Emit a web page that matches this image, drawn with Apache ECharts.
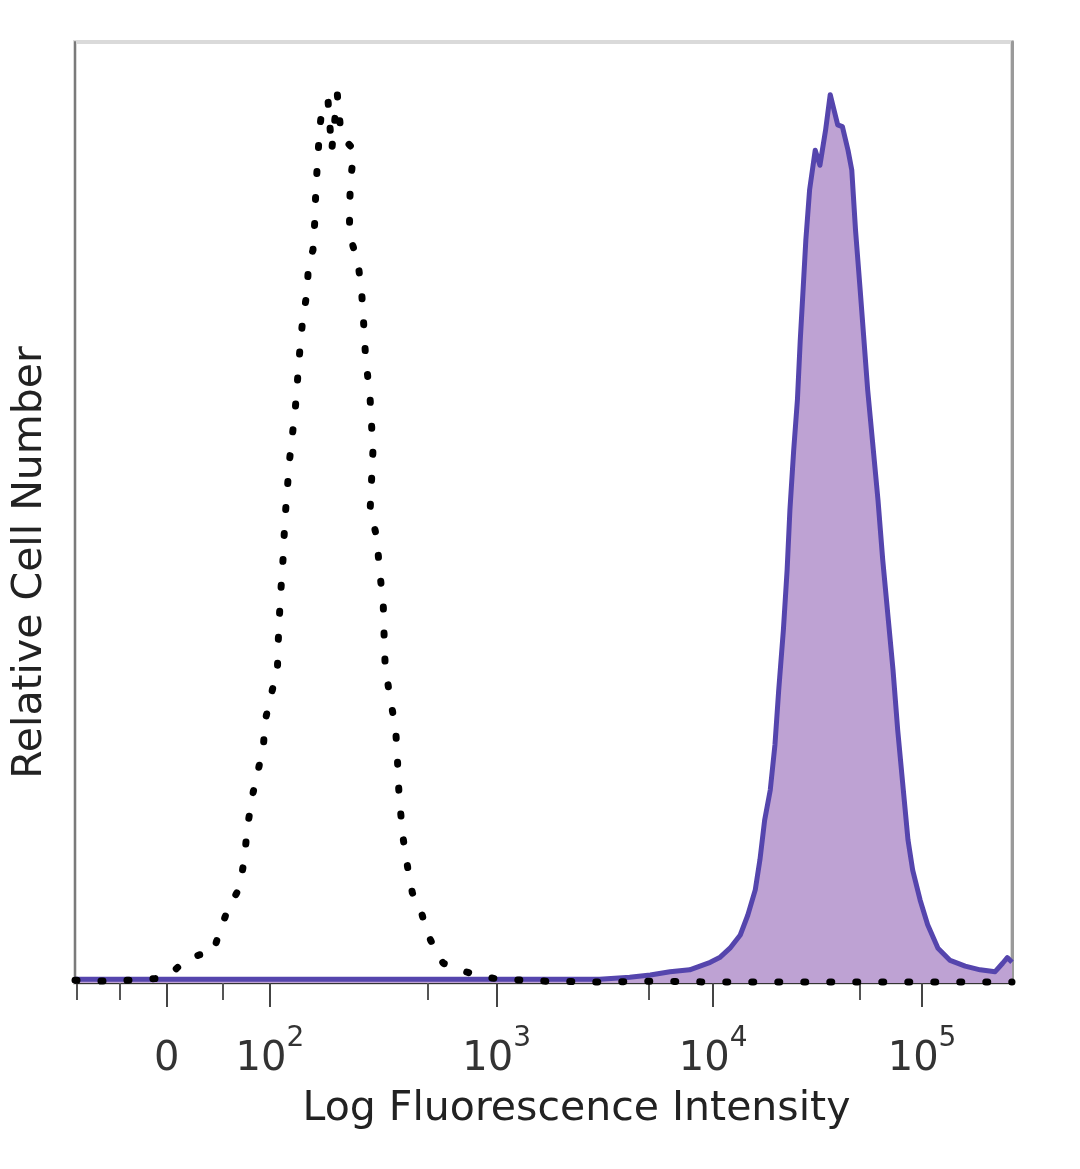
<!DOCTYPE html>
<html>
<head>
<meta charset="utf-8">
<script src="https://cdn.jsdelivr.net/npm/echarts@6/dist/echarts.min.js"></script>
<style>
html,body{margin:0;padding:0;background:#fff;}
#chart{width:1080px;height:1169px;}
</style>
</head>
<body>
<div id="chart"></div>
<script>
// x values are display channels (0-1000 across the plot, biexponential display scale)
const majorTickValues = [98, 208, 450, 681, 904];
const majorTickLabels = ['0', '10^2', '10^3', '10^4', '10^5'];
const minorTickValues = [2, 48, 158, 376, 612, 838];

// Isotype control (dotted black)
const controlX = [0, 27, 59, 91, 107, 117, 133, 147, 155, 163, 176, 181, 184, 190, 195, 201, 203, 208, 216, 217, 219, 222, 224, 229, 235, 240, 243, 248, 249, 254, 256, 257, 259, 261, 264, 270, 274, 280, 283, 288, 298, 294, 293, 293, 302, 306, 308, 310, 315, 318, 315, 322, 325, 329, 330, 331, 336, 342, 344, 345, 347, 350, 355, 360, 370, 376, 386, 393, 411, 432, 454, 500, 560, 620, 680, 740, 800, 860, 920, 1000];
const controlY = [0.3, 0.2, 0.3, 0.5, 1.4, 2.4, 3.0, 3.2, 5.6, 7.8, 10.2, 13.4, 16.6, 20.2, 22.4, 25.1, 27.9, 30.1, 33.3, 36.5, 40.7, 45.0, 49.2, 55.6, 60.9, 67.3, 70.5, 73.6, 76.3, 77.9, 81.1, 84.3, 87.5, 90.6, 93.3, 93.8, 88.5, 94.4, 91.2, 89.6, 88.5, 85.3, 82.1, 79.5, 76.6, 73.3, 70.2, 66.7, 62.0, 56.6, 50.3, 47.4, 43.9, 40.2, 36.5, 33.8, 30.4, 27.2, 24.2, 21.3, 18.7, 15.5, 12.3, 9.6, 7.4, 5.3, 3.2, 2.1, 1.4, 0.7, 0.4, 0.2, 0.1, 0.2, 0.1, 0.1, 0.1, 0.1, 0.1, 0.1];

// Stained sample (purple filled)
const stainedX = [0, 100, 200, 300, 400, 500, 560, 592, 614, 635, 656, 667, 678, 688, 699, 710, 718, 726, 731, 736, 742, 747, 751, 756, 760, 763, 767, 771, 774, 777, 780, 784, 790, 795, 801, 806, 810, 814, 819, 825, 829, 833, 838, 842, 846, 851, 857, 862, 868, 873, 878, 884, 889, 894, 902, 910, 921, 934, 950, 966, 982, 990, 995, 1000];
const stainedY = [0.4, 0.4, 0.4, 0.4, 0.4, 0.4, 0.4, 0.6, 0.85, 1.2, 1.4, 1.8, 2.2, 2.7, 3.7, 5.1, 7.2, 9.9, 13.1, 17.3, 20.5, 25.3, 31.1, 37.5, 43.9, 50.3, 56.6, 62.0, 68.3, 73.6, 79.0, 84.3, 88.5, 86.9, 90.6, 94.4, 92.8, 91.2, 91.0, 88.5, 86.4, 80.0, 73.6, 68.3, 63.0, 57.7, 51.3, 45.0, 38.6, 33.3, 26.9, 20.5, 15.2, 12.0, 8.8, 6.2, 3.7, 2.4, 1.8, 1.4, 1.2, 2.1, 2.7, 2.2];

const controlData = controlX.map((x, i) => [x, controlY[i]]);
const stainedData = stainedX.map((x, i) => [x, stainedY[i]]);

const FONT = 'DejaVu Sans';
const chart = echarts.init(document.getElementById('chart'), null, {renderer: 'canvas'});
chart.setOption({
  animation: false,
  backgroundColor: '#ffffff',
  grid: {left: 75, right: 68, top: 42, bottom: 186, show: true, borderColor: '#dadada', borderWidth: 4},
  xAxis: [{
    type: 'value', min: 0, max: 1000, position: 'bottom',
    splitLine: {show: false},
    axisLine: {show: true, onZero: false, lineStyle: {color: '#333', width: 1}},
    axisTick: {show: true, customValues: majorTickValues, length: 24, lineStyle: {color: '#444', width: 2}},
    axisLabel: {
      show: true, customValues: majorTickValues, margin: 42,
      formatter: function (v) {
        const i = majorTickValues.indexOf(v);
        const t = majorTickLabels[i] || '';
        if (t.indexOf('^') > 0) {
          const p = t.split('^');
          return '{b|' + p[0] + '}{s|' + p[1] + '}';
        }
        return '{b|' + t + '}';
      },
      rich: {
        b: {fontFamily: FONT, fontSize: 40, lineHeight: 70, color: '#333', verticalAlign: 'middle'},
        s: {fontFamily: FONT, fontSize: 28, lineHeight: 30, color: '#333', verticalAlign: 'top'}
      }
    },
    name: 'Log Fluorescence Intensity', nameLocation: 'middle', nameGap: 106,
    nameTextStyle: {fontFamily: FONT, fontSize: 41, color: '#222', padding: [0, 0, 0, 66]}
  }, {
    type: 'value', min: 0, max: 1000, position: 'bottom',
    splitLine: {show: false},
    axisLine: {show: false},
    axisTick: {show: true, customValues: minorTickValues, length: 17, lineStyle: {color: '#555', width: 2}},
    axisLabel: {show: false}
  }],
  yAxis: [{
    type: 'value', min: 0, max: 100, position: 'left',
    splitLine: {show: false},
    axisLine: {show: true, onZero: false, lineStyle: {color: '#7a7a7a', width: 2}},
    axisTick: {show: false}, axisLabel: {show: false},
    name: 'Relative Cell Number', nameLocation: 'middle', nameGap: 24, nameRotate: 90,
    nameTextStyle: {fontFamily: FONT, fontSize: 41, color: '#222', padding: [0, 100, 0, 0]}
  }, {
    type: 'value', min: 0, max: 100, position: 'right',
    splitLine: {show: false},
    axisLine: {show: true, onZero: false, lineStyle: {color: '#9a9a9a', width: 3}},
    axisTick: {show: false}, axisLabel: {show: false}
  }],
  series: [{
    type: 'line', name: 'Stained', data: stainedData, xAxisIndex: 0, yAxisIndex: 0,
    showSymbol: false, smooth: false,
    lineStyle: {color: '#5545ad', width: 5, join: 'round'},
    areaStyle: {color: '#bea2d3', opacity: 1},
    z: 2
  }, {
    type: 'line', name: 'Control', data: controlData, xAxisIndex: 0, yAxisIndex: 0,
    showSymbol: false, smooth: false,
    lineStyle: {color: '#000', width: 7, type: [2, 24], cap: 'round', join: 'round'},
    z: 3
  }]
});
</script>
</body>
</html>
